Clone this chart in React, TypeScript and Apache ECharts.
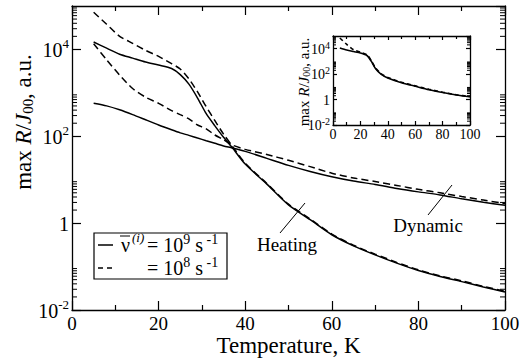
import React, { useEffect, useRef } from "react";
import * as echarts from "echarts";

// ---- data ----
const temps = [5, 8, 11, 14, 17, 20, 23, 25, 27, 29, 31, 33, 35, 37, 40, 45, 50, 55, 60, 65, 70, 75, 80, 85, 90, 95, 100];
// Heating curve, nu = 1e9 s^-1 (solid) and 1e8 s^-1 (dashed)
const heating1e9 = [14800, 10700, 7760, 6310, 5130, 4370, 3630, 2630, 1585, 760, 331, 174, 95, 55, 22.9, 7.9, 2.63, 1.2, 0.54, 0.3, 0.186, 0.12, 0.081, 0.059, 0.045, 0.034, 0.026];
const heating1e8 = [72000, 38000, 20000, 13800, 9500, 6900, 4700, 3550, 2090, 1050, 480, 229, 112, 60, 24, 8.2, 2.73, 1.25, 0.56, 0.31, 0.193, 0.125, 0.084, 0.061, 0.047, 0.035, 0.027];
// Dynamic curve
const dynamic1e9 = [575, 501, 407, 316, 240, 182, 141, 120, 105, 91, 79, 69, 60, 54, 45, 31, 21.4, 15.5, 11.7, 9.3, 7.8, 6.3, 5.25, 4.47, 3.63, 3.02, 2.57];
const dynamic1e8 = [13500, 5750, 2570, 1260, 795, 575, 390, 316, 251, 182, 148, 107, 83, 63, 50, 38, 28, 20, 14.1, 11, 9.1, 7.4, 6.0, 5.0, 4.1, 3.4, 2.82];
// Inset
const insetTemps = [5, 10, 15, 20, 25, 28, 31, 35, 40, 50, 60, 70, 80, 90, 100];
const insetSolid = [11200, 7900, 6000, 4600, 2800, 1000, 280, 100, 50, 21, 11.2, 6.0, 3.6, 2.3, 1.66];
const insetDashed = [70000, 22000, 8300, 5200, 3200, 1120, 316, 112, 55, 23, 12, 6.5, 3.8, 2.4, 1.74];
// axis ticks
const xTickLabels = [0, 20, 40, 60, 80, 100];
const yMajorExponents = [-2, 0, 2, 4];

const FONT = '"Liberation Serif", "Times New Roman", serif';
const BLACK = "#000";

function pairs(xs: number[], ys: number[]) {
  return xs.map((x, i) => [x, ys[i]]);
}

// minor ticks: j * 10^e for the decades that start at a labelled major tick
const minorVals: number[] = [];
yMajorExponents.forEach((e) => {
  for (let j = 2; j <= 9; j++) minorVals.push(j * Math.pow(10, e));
});

function logLabel(v: number) {
  const e = Math.round(Math.log10(v));
  if (e === 0) return "{b|1}";
  return "{b|10}{s|" + e + "}";
}

export default function App() {
  const ref = useRef<HTMLDivElement>(null);
  useEffect(() => {
    if (!ref.current) return;
    const chart = echarts.init(ref.current, undefined, { renderer: "svg" });
    const axisLine = { show: true, onZero: false, lineStyle: { color: BLACK, width: 1.3 } };

    const xAxisDef = (grid: number, pos: string, big: boolean, labels: boolean) => ({
      gridIndex: grid,
      type: "value",
      position: pos,
      min: 0,
      max: 100,
      interval: 20,
      axisLine,
      axisTick: { show: true, inside: true, length: big ? 9 : 4, lineStyle: { color: BLACK, width: 1.2 } },
      minorTick: { show: true, splitNumber: 2, length: big ? 5 : 3, lineStyle: { color: BLACK, width: 1.2 } },
      splitLine: { show: false },
      minorSplitLine: { show: false },
      axisLabel: {
        show: labels,
        color: BLACK,
        fontFamily: FONT,
        fontSize: big ? 19 : 14,
        lineHeight: big ? 17 : 14,
        margin: big ? 5 : 2,
        formatter: (v: number) => (xTickLabels.indexOf(v) >= 0 ? String(v) : ""),
      },
      name: grid === 0 && labels ? "Temperature, K" : "",
      nameLocation: "middle",
      nameGap: 24,
      nameMoveOverlap: false,
      nameTextStyle: { color: BLACK, fontFamily: FONT, fontSize: 23, lineHeight: 22 },
    });

    const yAxisDef = (grid: number, pos: string, big: boolean, labels: boolean) => ({
      gridIndex: grid,
      type: "log",
      logBase: 10,
      position: pos,
      min: 0.01,
      max: 100000,
      interval: 2,
      axisLine,
      axisTick: { show: true, inside: true, length: big ? 9 : 4, lineStyle: { color: BLACK, width: 1.2 } },
      splitLine: { show: false },
      minorTick: { show: false },
      axisLabel: {
        show: labels,
        showMaxLabel: false,
        margin: 3,
        formatter: logLabel,
        rich: {
          b: { fontFamily: FONT, fontSize: big ? 20 : 14, color: BLACK, verticalAlign: "bottom", lineHeight: big ? 22 : 15 },
          s: {
            fontFamily: FONT,
            fontSize: big ? 13 : 10,
            color: BLACK,
            verticalAlign: "bottom",
            lineHeight: big ? 13 : 10,
            padding: big ? [0, 0, 10, 0] : [0, 0, 6, 0],
          },
        },
      },
    });

    const minorTickSeries = (xi: number, yi: number, len: number) => ({
      type: "custom",
      xAxisIndex: xi,
      yAxisIndex: yi,
      silent: true,
      clip: false,
      data: [...minorVals.map((v) => [0, v]), ...minorVals.map((v) => [100, v])],
      renderItem: (params: any, api: any) => {
        const x = api.value(0);
        const v = api.value(1);
        const p = api.coord([x, v]);
        const dir = x === 0 ? 1 : -1;
        return {
          type: "line",
          shape: { x1: p[0], y1: p[1], x2: p[0] + dir * len, y2: p[1] },
          style: { stroke: BLACK, lineWidth: 1 },
        };
      },
    });

    const lineSeries = (xi: number, yi: number, data: number[][], dashed: boolean, w = 1.5, dash = [7, 4]) => ({
      type: "line",
      xAxisIndex: xi,
      yAxisIndex: yi,
      data,
      showSymbol: false,
      smooth: 0.25,
      lineStyle: { color: BLACK, width: w, type: dashed ? dash : "solid" },
    });

    const supStyle = { fontFamily: FONT, fontSize: 14, fill: BLACK, verticalAlign: "bottom", lineHeight: 14, padding: [0, 0, 9, 0] } as any;
    const baseStyle = { fontFamily: FONT, fontSize: 20, fill: BLACK, verticalAlign: "bottom", lineHeight: 22 } as any;

    const option: any = {
      animation: false,
      backgroundColor: "#fff",
      grid: [
        { left: 72, top: 6, width: 433, height: 304, outerBoundsMode: "none" },
        { left: 333, top: 36, width: 137, height: 89, outerBoundsMode: "none" },
      ],
      xAxis: [
        xAxisDef(0, "bottom", true, true),
        xAxisDef(0, "top", true, false),
        xAxisDef(1, "bottom", false, true),
        xAxisDef(1, "top", false, false),
      ],
      yAxis: [
        yAxisDef(0, "left", true, true),
        yAxisDef(0, "right", true, false),
        yAxisDef(1, "left", false, true),
        yAxisDef(1, "right", false, false),
      ],
      series: [
        minorTickSeries(0, 0, 5),
        minorTickSeries(2, 2, 3),
        lineSeries(0, 0, pairs(temps, dynamic1e9), false),
        lineSeries(0, 0, pairs(temps, dynamic1e8), true),
        lineSeries(0, 0, pairs(temps, heating1e9), false),
        lineSeries(0, 0, pairs(temps, heating1e8), true),
        lineSeries(2, 2, pairs(insetTemps, insetSolid), false, 1.6),
        lineSeries(2, 2, pairs(insetTemps, insetDashed), true, 1.6, [4, 3]),
      ],
      graphic: [
        // main y-axis title
        {
          type: "text",
          x: 22,
          y: 122,
          rotation: Math.PI / 2,
          style: {
            text: "{b|max }{i|R}{b|/}{i|J}{sub|00}{b|, a.u.}",
            align: "center",
            verticalAlign: "middle",
            rich: {
              b: { fontFamily: FONT, fontSize: 23, fill: BLACK, verticalAlign: "bottom", lineHeight: 26 },
              i: { fontFamily: FONT, fontSize: 23, fontStyle: "italic", fill: BLACK, verticalAlign: "bottom", lineHeight: 26 },
              sub: { fontFamily: FONT, fontSize: 15, fill: BLACK, verticalAlign: "bottom", lineHeight: 15 },
            },
          },
        },
        // inset y-axis title
        {
          type: "text",
          x: 303,
          y: 82,
          rotation: Math.PI / 2,
          style: {
            text: "{b|max }{i|R}{b|/}{i|J}{sub|00}{b|, a.u.}",
            align: "center",
            verticalAlign: "middle",
            rich: {
              b: { fontFamily: FONT, fontSize: 15, fill: BLACK, verticalAlign: "bottom", lineHeight: 17 },
              i: { fontFamily: FONT, fontSize: 15, fontStyle: "italic", fill: BLACK, verticalAlign: "bottom", lineHeight: 17 },
              sub: { fontFamily: FONT, fontSize: 10, fill: BLACK, verticalAlign: "bottom", lineHeight: 10 },
            },
          },
        },
        // legend box
        {
          type: "rect",
          shape: { x: 94, y: 233, width: 133, height: 46 },
          style: { fill: "#fff", stroke: BLACK, lineWidth: 1.2 },
          z: 10,
        },
        { type: "line", shape: { x1: 98, y1: 245, x2: 113, y2: 245 }, style: { stroke: BLACK, lineWidth: 1.5 }, z: 11 },
        { type: "line", shape: { x1: 98, y1: 268, x2: 114, y2: 268 }, style: { stroke: BLACK, lineWidth: 1.5, lineDash: [5, 4] }, z: 11 },
        { type: "line", shape: { x1: 120, y1: 236, x2: 130, y2: 236 }, style: { stroke: BLACK, lineWidth: 1 }, z: 11 },
        {
          type: "text",
          x: 121,
          y: 245,
          z: 11,
          style: { text: "ν", fontFamily: FONT, fontSize: 20, fill: BLACK, verticalAlign: "middle" },
        },
        {
          type: "text",
          x: 132,
          y: 237,
          z: 11,
          style: { text: "(i)", fontFamily: FONT, fontSize: 13, fontStyle: "italic", fill: BLACK, verticalAlign: "middle" },
        },
        {
          type: "text",
          x: 147,
          y: 244,
          z: 11,
          style: {
            text: "{b|= 10}{s|9}{b| s}{s| -1}",
            verticalAlign: "middle",
            rich: { b: baseStyle, s: supStyle },
          },
        },
        {
          type: "text",
          x: 147,
          y: 267,
          z: 11,
          style: {
            text: "{b|= 10}{s|8}{b| s}{s| -1}",
            verticalAlign: "middle",
            rich: { b: baseStyle, s: supStyle },
          },
        },
        // annotations
        { type: "line", shape: { x1: 280, y1: 233, x2: 305, y2: 203 }, style: { stroke: BLACK, lineWidth: 1 } },
        {
          type: "text",
          x: 287,
          y: 244,
          style: { text: "Heating", fontFamily: FONT, fontSize: 19, fill: BLACK, align: "center", verticalAlign: "middle" },
        },
        { type: "line", shape: { x1: 428, y1: 215, x2: 452, y2: 185 }, style: { stroke: BLACK, lineWidth: 1 } },
        {
          type: "text",
          x: 428,
          y: 225,
          style: { text: "Dynamic", fontFamily: FONT, fontSize: 19, fill: BLACK, align: "center", verticalAlign: "middle" },
        },
      ],
    };
    chart.setOption(option);
    return () => chart.dispose();
  }, []);
  return <div ref={ref} style={{ position: "absolute", left: 0, top: 0, width: 522, height: 360 }} />;
}
